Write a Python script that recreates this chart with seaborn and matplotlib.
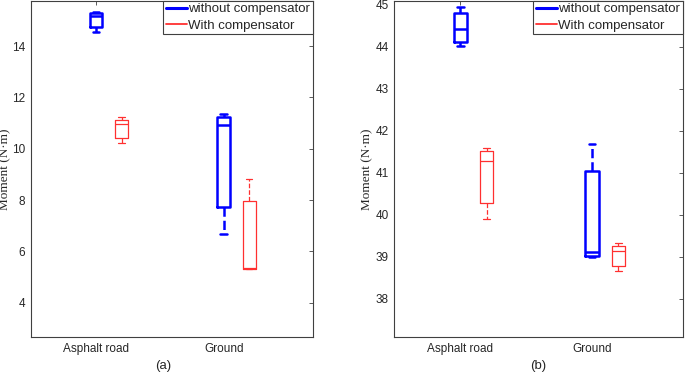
import numpy as np
import pandas as pd
import matplotlib
matplotlib.use("Agg")
import matplotlib.pyplot as plt
import seaborn as sns
from matplotlib.lines import Line2D

# surfaces on the x axis and the two test conditions
surfaces = ["Asphalt road", "Ground"]
series = ["without compensator", "With compensator"]

# five-number summaries: min, q1, median, q3, max
a_without = [[14.57, 14.75, 15.18, 15.30, 15.33], [6.68, 7.74, 10.92, 11.25, 11.34]]
a_with = [[10.21, 10.42, 10.96, 11.14, 11.22], [5.30, 5.33, 5.34, 7.95, 8.81]]
b_without = [[44.02, 44.11, 44.41, 44.81, 44.95], [39.00, 39.02, 39.12, 41.04, 41.68]]
b_with = [[39.91, 40.27, 41.28, 41.52, 41.60], [38.67, 38.79, 39.13, 39.26, 39.32]]

a_yticks = [4, 6, 8, 10, 12, 14]
b_yticks = [38, 39, 40, 41, 42, 43, 44, 45]

COLORS = {"without compensator": "#0000FF", "With compensator": "#FF3030"}
WIDTHS = {"without compensator": 1.8, "With compensator": 0.9}
OFFSETS = {"without compensator": 0.0, "With compensator": 0.2}
AXCOL = "#404040"


def to_frame(without, with_):
    rows = []
    for name, groups in zip(series, [without, with_]):
        for i, vals in enumerate(groups):
            for v in vals:
                rows.append({"pos": i + 1 + OFFSETS[name], "value": v, "series": name})
    return pd.DataFrame(rows)


def draw_panel(ax, df, ylim, xlim, yticks, label_x):
    for name in series:
        sub = df[df["series"] == name]
        sns.boxplot(data=sub, x="pos", y="value", native_scale=True, fill=False,
                    color=COLORS[name], linewidth=WIDTHS[name], width=0.1,
                    whis=(0, 100), showfliers=False, ax=ax,
                    whiskerprops={"linestyle": "--"})
    ax.set_xlim(*xlim)
    ax.set_ylim(*ylim)
    ax.set_xticks([1, 2])
    ax.set_xticklabels(surfaces)
    ax.set_yticks(yticks)
    ax.set_xlabel("")
    ax.set_ylabel("Moment (N·m)", family="Liberation Serif", fontsize=9.5,
                  color="#262626")
    ax.yaxis.set_label_coords(label_x, 0.5)
    ax.tick_params(direction="in", length=3, width=0.6, color=AXCOL,
                   labelsize=8.5, labelcolor="#262626", pad=4,
                   top=True, right=True)
    for s in ax.spines.values():
        s.set_visible(True)
        s.set_color(AXCOL)
        s.set_linewidth(0.8)
    handles = [Line2D([], [], color=COLORS[n], lw=WIDTHS[n] + 0.4) for n in series]
    leg = ax.legend(handles, series, loc="upper right", fontsize=9.5,
                    borderaxespad=0, borderpad=0.2, labelspacing=0.3,
                    handlelength=1.6, handletextpad=0.1, fancybox=False,
                    framealpha=1)
    leg.get_frame().set_edgecolor(AXCOL)
    leg.get_frame().set_linewidth(0.8)


sns.set_theme(style="white")
plt.rcParams["font.family"] = ["Liberation Sans", "DejaVu Sans"]

fig = plt.figure(figsize=(6.85, 3.73), dpi=100)
ax1 = fig.add_axes([31 / 685, 36 / 373, 282 / 685, 336.5 / 373])
ax2 = fig.add_axes([394.3 / 685, 36 / 373, 288.7 / 685, 336.5 / 373])

draw_panel(ax1, to_frame(a_without, a_with), (2.66, 15.78), (0.49, 2.70), a_yticks, -20 / 282)
draw_panel(ax2, to_frame(b_without, b_with), (37.09, 45.10), (0.5, 2.69), b_yticks, -21 / 288.7)

fig.text(163 / 685, 1 - 366.5 / 373, "(a)", ha="center", va="center", fontsize=9.5, color="#262626")
fig.text(538 / 685, 1 - 366.5 / 373, "(b)", ha="center", va="center", fontsize=9.5, color="#262626")

fig.savefig("out.png", dpi=100)
